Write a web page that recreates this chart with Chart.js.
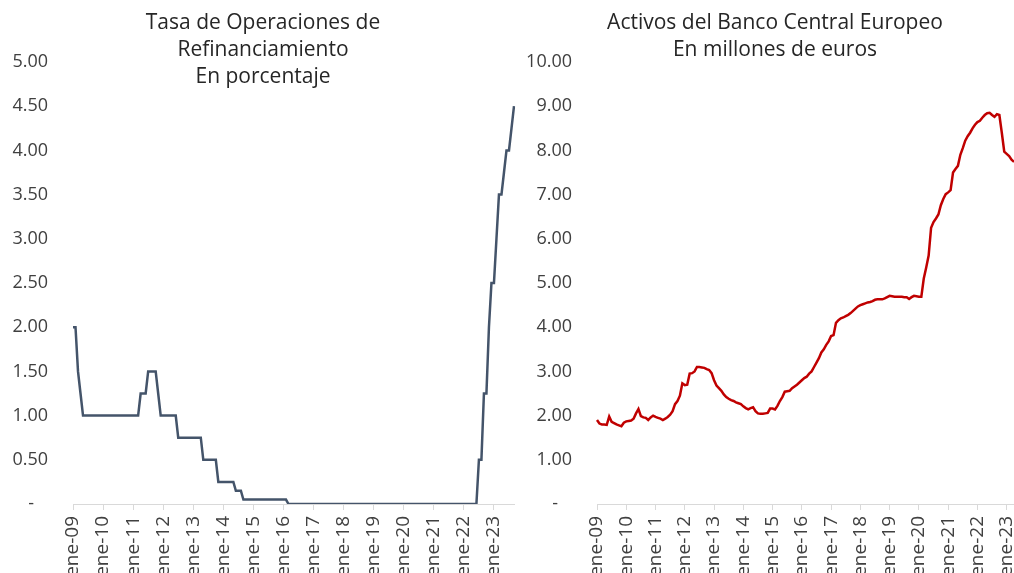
<!DOCTYPE html>
<html lang="es">
<head>
<meta charset="utf-8">
<title>Tasa de Operaciones de Refinanciamiento y Activos del BCE</title>
<script src="https://cdn.jsdelivr.net/npm/chart.js@4.4.0/dist/chart.umd.min.js"></script>
<style>
    body { margin: 0; background: #fff; overflow: hidden; width: 1014px; height: 573px; position: relative; }
    .panel { position: absolute; top: 0; height: 573px; overflow: hidden; }
    .titulo {
        position: absolute; top: 8px; text-align: center;
        font-family: "Open Sans", sans-serif; font-size: 21px; line-height: 27px; color: #262626;
        white-space: nowrap; transform: translateX(-50%);
    }
</style>
</head>
<body>
<div class="panel" style="left:0;width:526px"><canvas id="tasaChart" width="526" height="573"></canvas></div>
<div class="panel" style="left:526px;width:488px"><canvas id="activosChart" width="488" height="573"></canvas></div>
<div class="titulo" style="left:263px">Tasa de Operaciones de<br>Refinanciamiento<br>En porcentaje</div>
<div class="titulo" style="left:775px">Activos del Banco Central Europeo<br>En millones de euros</div>

<script>
// ------------------ Datos ------------------
const meses = ["ene","feb","mar","abr","may","jun","jul","ago","sep","oct","nov","dic"];

// Tasa de refinanciamiento (%), mensual ene-09 a sep-23
const tasa = [
    2.00,2.00,1.50,1.25,1.00,1.00,1.00,1.00,1.00,1.00,1.00,1.00, // 2009
    1.00,1.00,1.00,1.00,1.00,1.00,1.00,1.00,1.00,1.00,1.00,1.00, // 2010
    1.00,1.00,1.00,1.25,1.25,1.25,1.50,1.50,1.50,1.50,1.25,1.00, // 2011
    1.00,1.00,1.00,1.00,1.00,1.00,0.75,0.75,0.75,0.75,0.75,0.75, // 2012
    0.75,0.75,0.75,0.75,0.50,0.50,0.50,0.50,0.50,0.50,0.25,0.25, // 2013
    0.25,0.25,0.25,0.25,0.25,0.15,0.15,0.15,0.05,0.05,0.05,0.05, // 2014
    0.05,0.05,0.05,0.05,0.05,0.05,0.05,0.05,0.05,0.05,0.05,0.05, // 2015
    0.05,0.05,0,0,0,0,0,0,0,0,0,0,                               // 2016
    0,0,0,0,0,0,0,0,0,0,0,0,                                     // 2017
    0,0,0,0,0,0,0,0,0,0,0,0,                                     // 2018
    0,0,0,0,0,0,0,0,0,0,0,0,                                     // 2019
    0,0,0,0,0,0,0,0,0,0,0,0,                                     // 2020
    0,0,0,0,0,0,0,0,0,0,0,0,                                     // 2021
    0,0,0,0,0,0,0.50,0.50,1.25,1.25,2.00,2.50,                   // 2022
    2.50,3.00,3.50,3.50,3.75,4.00,4.00,4.25,4.50                 // 2023
];

// Activos del BCE, mensual ene-09 a abr-23
const activos = [
    1.90,1.82,1.80,1.80,1.79,1.98,1.86,1.83,1.80,1.78,1.76,1.84, // 2009
    1.87,1.88,1.89,1.93,2.05,2.15,1.99,1.96,1.95,1.90,1.96,2.00, // 2010
    1.97,1.95,1.93,1.90,1.93,1.97,2.02,2.10,2.26,2.33,2.45,2.73, // 2011
    2.69,2.70,2.95,2.96,3.00,3.10,3.10,3.09,3.08,3.05,3.03,2.96, // 2012
    2.80,2.68,2.62,2.56,2.48,2.42,2.38,2.35,2.33,2.30,2.28,2.26, // 2013
    2.21,2.17,2.14,2.17,2.19,2.10,2.05,2.04,2.04,2.05,2.06,2.16, // 2014
    2.16,2.14,2.22,2.33,2.42,2.54,2.55,2.56,2.62,2.66,2.70,2.75, // 2015
    2.80,2.85,2.88,2.95,3.00,3.10,3.20,3.30,3.43,3.50,3.60,3.68, // 2016
    3.80,3.82,4.10,4.16,4.20,4.22,4.25,4.28,4.32,4.37,4.42,4.47, // 2017
    4.50,4.52,4.54,4.56,4.57,4.59,4.62,4.63,4.63,4.63,4.65,4.68, // 2018
    4.71,4.70,4.69,4.69,4.69,4.69,4.68,4.68,4.64,4.68,4.71,4.70, // 2019
    4.69,4.69,5.10,5.35,5.62,6.25,6.38,6.46,6.55,6.76,6.90,7.01, // 2020
    7.05,7.10,7.50,7.58,7.65,7.90,8.05,8.22,8.32,8.40,8.50,8.58, // 2021
    8.64,8.67,8.74,8.80,8.84,8.85,8.80,8.76,8.82,8.80,8.40,7.97, // 2022
    7.92,7.87,7.79,7.74                                          // 2023
];

function etiquetas(n) {
    let out = [];
    for (let i = 0; i < n; i++) {
        let anio = 9 + Math.floor(i / 12);
        out.push(meses[i % 12] + "-" + String(anio).padStart(2, "0"));
    }
    return out;
}

const tasaLabels = etiquetas(tasa.length);
const activosLabels = etiquetas(activos.length);

// ------------------ Opciones comunes ------------------
const fuente = "'Open Sans', sans-serif";
const grisTexto = "#404040";
const grisEje = "#d9d9d9";

function opciones(yMax, yStep, anchoY, padRight, padTop) {
    return {
        responsive: false,
        animation: false,
        layout: { padding: { top: padTop, right: padRight, left: 0, bottom: 0 } },
        plugins: { legend: { display: false }, title: { display: false }, tooltip: { enabled: false } },
        elements: { point: { radius: 0 }, line: { tension: 0 } },
        scales: {
            x: {
                grid: { drawOnChartArea: false, drawTicks: true, tickLength: 6, color: grisEje },
                border: { color: grisEje, width: 1 },
                ticks: {
                    autoSkip: false, maxRotation: 90, minRotation: 90, padding: 6,
                    color: grisTexto, font: { family: fuente, size: 19 },
                    callback: function(val) {
                        let l = this.getLabelForValue(val);
                        return l.startsWith("ene") ? l : null;
                    }
                },
                // eje x de alto fijo, las etiquetas se cortan abajo como en el original
                afterFit: s => { s.height = 69; s.paddingRight = 0; s.paddingLeft = 0; }
            },
            y: {
                min: 0, max: yMax,
                grid: { display: false, drawTicks: false },
                border: { display: false },
                ticks: {
                    stepSize: yStep, padding: 25,
                    color: grisTexto, font: { family: fuente, size: 18 },
                    callback: v => v === 0 ? "-   " : v.toFixed(2)
                },
                afterFit: s => { s.width = anchoY; }
            }
        }
    };
}

// ------------------ Tasa ------------------
new Chart(document.getElementById("tasaChart").getContext("2d"), {
    type: "line",
    data: {
        labels: tasaLabels,
        datasets: [{ data: tasa, borderColor: "#44546a", borderWidth: 2.5, fill: false }]
    },
    options: opciones(5, 0.5, 73, 12, 62)
});

// ------------------ Activos ------------------
new Chart(document.getElementById("activosChart").getContext("2d"), {
    type: "line",
    data: {
        labels: activosLabels,
        datasets: [{ data: activos, borderColor: "#c00000", borderWidth: 2.5, fill: false }]
    },
    options: opciones(10, 1, 71, 0, 62)
});
</script>
</body>
</html>
